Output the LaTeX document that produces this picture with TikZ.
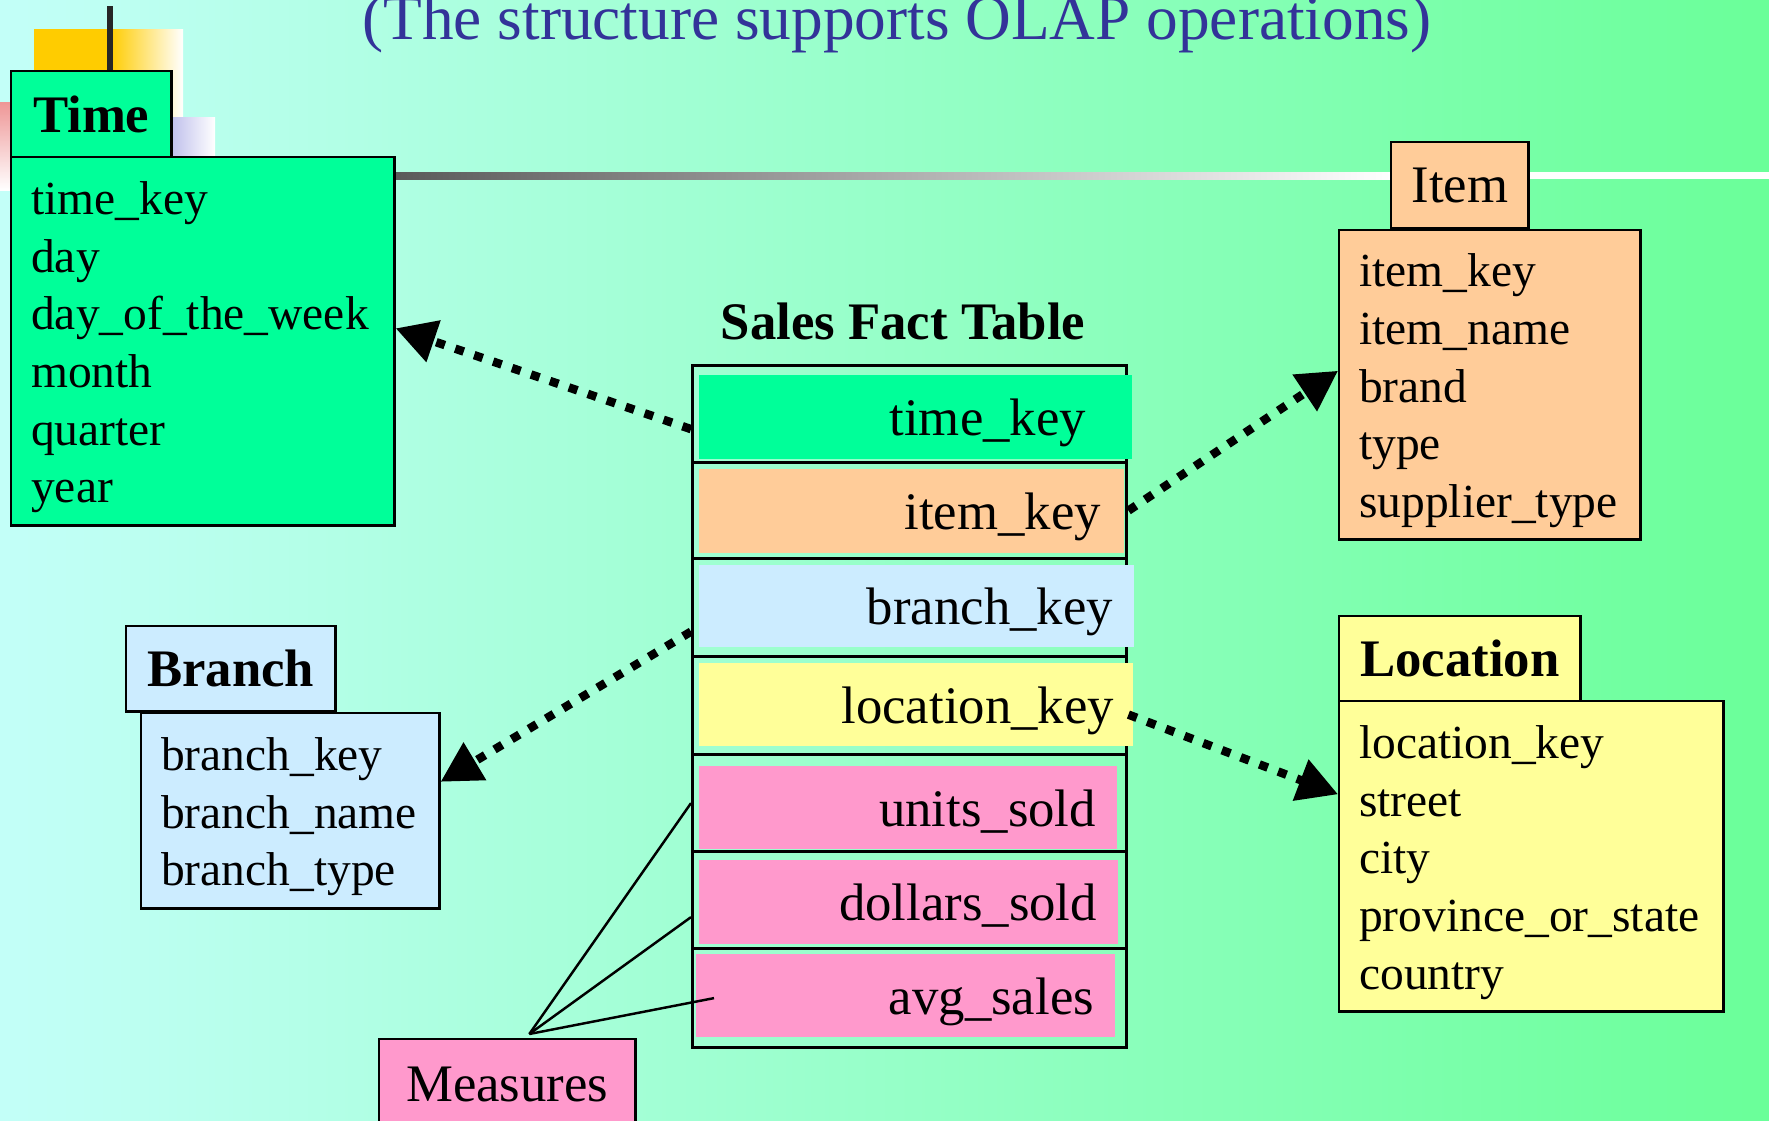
\documentclass[tikz,border=0pt]{standalone}
\usepackage{fontspec}
\setmainfont{Liberation Serif}
\usetikzlibrary{arrows.meta}
\definecolor{timegreen}{RGB}{0,255,153}
\definecolor{itemorange}{RGB}{255,204,153}
\definecolor{branchblue}{RGB}{204,236,255}
\definecolor{locyellow}{RGB}{255,255,153}
\definecolor{measpink}{RGB}{255,153,204}
\definecolor{titleblue}{RGB}{51,51,153}
\definecolor{bgleft}{RGB}{195,255,248}
\definecolor{bgright}{RGB}{106,255,153}
\definecolor{decoyellow}{RGB}{255,204,0}
\definecolor{decopink}{RGB}{238,150,150}
\definecolor{decoblue}{RGB}{160,160,226}

\begin{document}
\begin{tikzpicture}[x=0.01cm,y=-0.01cm,
    hdr/.style={draw,line width=0.7pt,anchor=north west,inner sep=0pt,font=\fontsize{15}{18}\selectfont},
    body/.style={draw,line width=0.7pt,anchor=north west,align=left,inner ysep=0pt,font=\fontsize{13.5}{16.4}\selectfont,
        execute at begin node={\rule{0pt}{0.45cm}}},
    rowbox/.style={draw,line width=0.9pt,anchor=north west,inner sep=0pt,minimum width=4.34cm},
    keyfill/.style={anchor=north west,inner ysep=0pt,align=right,text height=0.5cm,text depth=0.12cm,font=\fontsize{15}{18}\selectfont},
    fk/.style={draw,line width=0.085cm,dash pattern=on 0.09cm off 0.11cm,-{Triangle[length=0.4cm,width=0.42cm]}},
    mline/.style={draw,line width=0.7pt}]
    \useasboundingbox (0,0) rectangle (1769,1121);
    \path[clip] (0,0) rectangle (1769,1121);
    \shade[left color=bgleft,right color=bgright] (0,0) rectangle (1769,1121);
    % corner decoration and rule
    \fill[decoyellow] (34,29) rectangle (110,117);
    \shade[left color=decoyellow,right color=white] (110,29) rectangle (183,117);
    \shade[top color=decopink,bottom color=white] (0,102) rectangle (10,190);
    \shade[left color=decoblue,right color=white] (150,117) rectangle (215,156);
    \fill[black!85] (107,6) rectangle (113,70);
    \shade[left color=black!65,right color=white] (393,172) rectangle (1390,179);
    \fill[white] (1390,172) rectangle (1769,179);

    \path (897,40) node(title)[anchor=base,text=titleblue,font=\fontsize{18}{21}\selectfont] {(The structure supports OLAP operations)};

    % dimension tables
    \path (10,70) node(timehdr)[hdr,fill=timegreen,minimum width=1.6cm,minimum height=0.86cm] {\bfseries Time};
    \path (10,156) node(timebody)[body,fill=timegreen,minimum height=3.68cm,inner xsep=0.2cm,text width=3.43cm] {time\_key\\day\\day\_of\_the\_week\\month\\quarter\\year};
    \path (1390,141) node(itemhdr)[hdr,fill=itemorange,minimum width=1.37cm,minimum height=0.86cm] {Item};
    \path (1338,229) node(itembody)[body,fill=itemorange,minimum height=3.09cm,inner xsep=0.2cm,text width=2.61cm] {item\_key\\item\_name\\brand\\type\\supplier\_type};
    \path (125,625) node(branchhdr)[hdr,fill=branchblue,minimum width=2.09cm,minimum height=0.85cm] {\bfseries Branch};
    \path (140,712) node(branchbody)[body,fill=branchblue,minimum height=1.95cm,inner xsep=0.2cm,text width=2.58cm] {branch\_key\\branch\_name\\branch\_type};
    \path (1338,615) node(lochdr)[hdr,fill=locyellow,minimum width=2.41cm,minimum height=0.85cm] {\bfseries Location};
    \path (1338,700) node(locbody)[body,fill=locyellow,minimum height=3.10cm,inner xsep=0.2cm,text width=3.44cm] {location\_key\\street\\city\\province\_or\_state\\country};

    % fact table
    \path (903,339) node(facttitle)[anchor=base,font=\fontsize{15}{18}\selectfont\bfseries] {Sales Fact Table};
    \path (691,364) node(trow)[rowbox,minimum height=0.97cm] {};
    \path (691,461) node(irow)[rowbox,minimum height=0.96cm] {};
    \path (691,557) node(brow)[rowbox,minimum height=0.98cm] {};
    \path (691,655) node(lrow)[rowbox,minimum height=0.98cm] {};
    \path (691,753) node(urow)[rowbox,minimum height=0.97cm] {};
    \path (691,850) node(drow)[rowbox,minimum height=0.97cm] {};
    \path (691,947) node(arow)[rowbox,minimum height=0.99cm] {};
    \path (698,374) node(tkey)[keyfill,fill=timegreen,minimum height=0.84cm,inner xsep=0.46cm,text width=3.41cm] {time\_key};
    \path (698,468) node(ikey)[keyfill,fill=itemorange,minimum height=0.84cm,inner xsep=0.23cm,text width=3.79cm] {item\_key};
    \path (698,564) node(bkey)[keyfill,fill=branchblue,minimum height=0.82cm,inner xsep=0.21cm,text width=3.93cm] {branch\_key};
    \path (698,662) node(lkey)[keyfill,fill=locyellow,minimum height=0.83cm,inner xsep=0.19cm,text width=3.96cm] {location\_key};
    \path (698,765) node(ukey)[keyfill,fill=measpink,minimum height=0.83cm,inner xsep=0.21cm,text width=3.76cm] {units\_sold};
    \path (698,859) node(dkey)[keyfill,fill=measpink,minimum height=0.84cm,inner xsep=0.21cm,text width=3.77cm] {dollars\_sold};
    \path (695,953) node(akey)[keyfill,fill=measpink,minimum height=0.83cm,inner xsep=0.21cm,text width=3.77cm] {avg\_sales};

    \path (378,1038) node(meas)[hdr,fill=measpink,minimum width=2.56cm,minimum height=0.9cm] {Measures};
    \path ([xshift=0.22cm,yshift=0.04cm]meas.north) edge[mline] (urow.west)
        edge[mline] ([yshift=-0.17cm]drow.west)
        edge[mline] ([xshift=0.23cm]arow.west);

    % foreign keys
    \path ([yshift=-0.15cm]trow.west) edge[fk] ([yshift=0.13cm]timebody.east);
    \path (irow.east) edge[fk] ([yshift=0.14cm]itembody.west);
    \path ([yshift=-0.24cm]brow.west) edge[fk] ([yshift=0.29cm]branchbody.east);
    \path ([yshift=-0.09cm]lrow.east) edge[fk] ([yshift=0.62cm]locbody.west);
\end{tikzpicture}
\end{document}
